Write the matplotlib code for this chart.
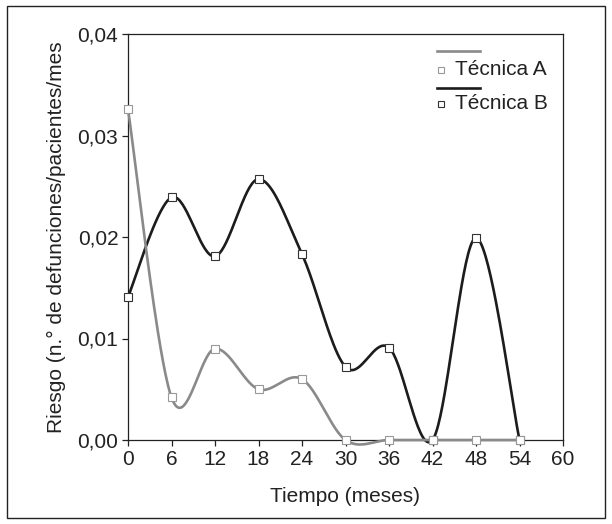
import numpy as np
import matplotlib
matplotlib.use('Agg')
import matplotlib.pyplot as plt
from matplotlib.patches import Rectangle
from matplotlib.ticker import FuncFormatter

plt.rcParams['font.family'] = ['Liberation Sans', 'DejaVu Sans']

# datos
meses = [0, 6, 12, 18, 24, 30, 36, 42, 48, 54]
tecnica_a = [0.0326, 0.0042, 0.0090, 0.0050, 0.0060, 0.0000, 0.0000, 0.0000, 0.0000, 0.0000]
tecnica_b = [0.0141, 0.0239, 0.0181, 0.0257, 0.0183, 0.0072, 0.0091, 0.0000, 0.0199, 0.0000]

x_ticks = list(range(0, 61, 6))
y_ticks = [0.00, 0.01, 0.02, 0.03, 0.04]

GRIS  = '#8a8a8a'
NEGRO = '#1c1c1c'


def suavizar(x, y, n=40):
    """Curva tipo Excel: Bezier con puntos de control Catmull-Rom."""
    p = np.column_stack([x, y]).astype(float)
    # escala para que x e y pesen parecido (en píxeles)
    esc = np.array([435 / 60.0, 406 / 0.04])
    p = p * esc
    ext = np.vstack([p[0], p, p[-1]])
    out = []
    for i in range(len(p) - 1):
        p0, p1, p2, p3 = ext[i], ext[i + 1], ext[i + 2], ext[i + 3]
        c1 = p1 + (p2 - p0) / 6.0
        c2 = p2 - (p3 - p1) / 6.0
        t = np.linspace(0, 1, n)[:, None]
        seg = ((1 - t) ** 3 * p1 + 3 * (1 - t) ** 2 * t * c1
               + 3 * (1 - t) * t ** 2 * c2 + t ** 3 * p2)
        out.append(seg if i == 0 else seg[1:])
    out = np.vstack(out) / esc
    return out[:, 0], out[:, 1]


fig = plt.figure(figsize=(6.12, 5.24), dpi=100)
ax = fig.add_axes([128 / 612, 1 - 440 / 524, 435 / 612, 406 / 524])

# marco exterior
fig.patches.append(Rectangle((7 / 612, 6 / 524), 598 / 612, 512 / 524,
                             transform=fig.transFigure, fill=False,
                             edgecolor='#222222', linewidth=1.0))

xb, yb = suavizar(meses, tecnica_b)
ax.plot(xb, yb, color=NEGRO, lw=1.9, clip_on=False, zorder=3,
        solid_capstyle='round')
ax.plot(meses, tecnica_b, ls='none', marker='s', ms=5.2, mfc='white',
        mec='#333333', mew=0.8, clip_on=False, zorder=4)

xa, ya = suavizar(meses, tecnica_a)
ax.plot(xa, ya, color=GRIS, lw=1.9, clip_on=False, zorder=5,
        solid_capstyle='round')
ax.plot(meses, tecnica_a, ls='none', marker='s', ms=5.2, mfc='white',
        mec='#999999', mew=0.8, clip_on=False, zorder=6)

ax.set_xlim(0, 60)
ax.set_ylim(0, 0.04)
ax.set_xticks(x_ticks)
ax.set_yticks(y_ticks)
ax.yaxis.set_major_formatter(FuncFormatter(lambda v, _: f'{v:.2f}'.replace('.', ',')))
ax.tick_params(direction='out', length=4, width=0.9, labelsize=15,
               colors='#222222', pad=3)
for s in ax.spines.values():
    s.set_linewidth(0.9)
    s.set_color('#222222')

ax.set_xlabel('Tiempo (meses)', fontsize=15, color='#222222', labelpad=13)
ax.set_ylabel('Riesgo (n.° de defunciones/pacientes/mes', fontsize=15,
              color='#222222', labelpad=8)

# leyenda dibujada a mano (línea encima, marcador con texto debajo)
tr = ax.transAxes
ax.plot([0.710, 0.809], [0.958, 0.958], color=GRIS, lw=1.9, transform=tr)
ax.plot([0.720], [0.912], ls='none', marker='s', ms=4.2, mfc='white',
        mec='#999999', mew=0.8, transform=tr)
ax.text(0.752, 0.912, 'Técnica A', transform=tr, fontsize=15,
        va='center', ha='left', color='#222222')
ax.plot([0.710, 0.809], [0.867, 0.867], color=NEGRO, lw=1.9, transform=tr)
ax.plot([0.720], [0.828], ls='none', marker='s', ms=4.2, mfc='white',
        mec='#333333', mew=0.8, transform=tr)
ax.text(0.752, 0.828, 'Técnica B', transform=tr, fontsize=15,
        va='center', ha='left', color='#222222')

fig.savefig('out.png', dpi=100)
